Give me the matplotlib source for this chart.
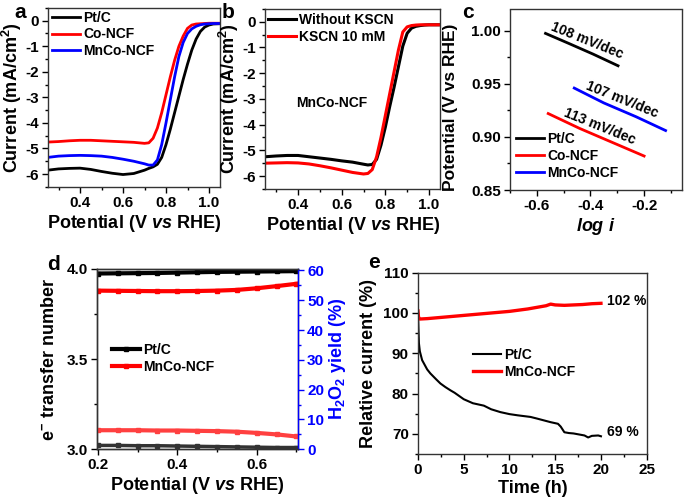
import matplotlib
matplotlib.use("Agg")
import matplotlib.pyplot as plt
from matplotlib.ticker import MultipleLocator

plt.rcParams["font.family"] = ["Liberation Sans", "DejaVu Sans"]
plt.rcParams["font.weight"] = "bold"
plt.rcParams["axes.labelweight"] = "bold"
plt.rcParams["axes.unicode_minus"] = False
plt.rcParams["mathtext.fontset"] = "custom"
plt.rcParams["mathtext.bf"] = "Liberation Sans:bold"
plt.rcParams["mathtext.rm"] = "Liberation Sans:bold"
plt.rcParams["mathtext.it"] = "Liberation Sans:bold:italic"
plt.rcParams["mathtext.default"] = "bf"

# ---- panel a: LSV curves ----
pot_a = [0.25, 0.30, 0.35, 0.40, 0.45, 0.50, 0.55, 0.60, 0.65, 0.70, 0.72, 0.74, 0.76,
         0.78, 0.80, 0.82, 0.84, 0.86, 0.88, 0.90, 0.92, 0.94, 0.96, 0.98, 1.00, 1.02, 1.05]
cur_ptc = [-5.85, -5.80, -5.78, -5.77, -5.82, -5.90, -5.97, -6.02, -5.98, -5.85, -5.78, -5.72,
           -5.62, -5.35, -4.85, -4.25, -3.60, -2.95, -2.30, -1.70, -1.15, -0.72, -0.42, -0.25,
           -0.17, -0.13, -0.12]
cur_conc = [-4.75, -4.73, -4.70, -4.68, -4.68, -4.70, -4.72, -4.74, -4.76, -4.80, -4.78, -4.60,
            -4.20, -3.60, -2.90, -2.20, -1.55, -1.00, -0.60, -0.30, -0.17, -0.13, -0.12, -0.11,
            -0.10, -0.10, -0.10]
cur_mnco = [-5.35, -5.30, -5.28, -5.27, -5.28, -5.30, -5.35, -5.42, -5.50, -5.60, -5.65, -5.65,
            -5.45, -4.85, -4.00, -3.10, -2.20, -1.40, -0.85, -0.50, -0.32, -0.22, -0.16, -0.13,
            -0.12, -0.11, -0.11]

# ---- panel b: KSCN poisoning ----
cur_no_kscn = [-5.25, -5.22, -5.20, -5.20, -5.25, -5.30, -5.35, -5.41, -5.46, -5.54, -5.57, -5.55,
               -5.35, -4.80, -4.10, -3.30, -2.55, -1.75, -0.95, -0.45, -0.25, -0.18, -0.15, -0.13,
               -0.12, -0.12, -0.12]
cur_kscn = [-5.50, -5.49, -5.48, -5.49, -5.53, -5.60, -5.68, -5.77, -5.86, -5.92, -5.90, -5.75,
            -5.25, -4.50, -3.65, -2.80, -1.95, -1.10, -0.40, -0.20, -0.15, -0.13, -0.12, -0.12,
            -0.12, -0.12, -0.12]

# ---- panel c: Tafel ----
logi_ptc = [-0.567, -0.48, -0.39, -0.297]
tafel_ptc = [0.9975, 0.988, 0.978, 0.967]
logi_conc = [-0.557, -0.44, -0.32, -0.20]
tafel_conc = [0.922, 0.908, 0.895, 0.882]
logi_mnco = [-0.46, -0.35, -0.23, -0.12]
tafel_mnco = [0.946, 0.932, 0.919, 0.906]
tafel_labels = ["108 mV/dec", "113 mV/dec", "107 mV/dec"]

# ---- panel d: RRDE ----
pot_d = [0.20, 0.25, 0.30, 0.35, 0.40, 0.45, 0.50, 0.55, 0.60, 0.65, 0.70]
n_ptc = [3.975, 3.976, 3.977, 3.978, 3.980, 3.982, 3.984, 3.985, 3.986, 3.987, 3.988]
n_mnco = [3.880, 3.879, 3.878, 3.877, 3.877, 3.878, 3.880, 3.884, 3.893, 3.905, 3.918]
h2o2_ptc = [1.3, 1.3, 1.2, 1.2, 1.1, 1.0, 0.9, 0.8, 0.7, 0.6, 0.6]
h2o2_mnco = [6.4, 6.4, 6.4, 6.3, 6.3, 6.2, 6.1, 5.9, 5.5, 5.0, 4.3]

# ---- panel e: chronoamperometry ----
t_ptc = [0, 0.05, 0.1, 0.2, 0.45, 1.0, 1.35, 2.0, 2.45, 3.0, 3.55, 4.0, 5.0, 6.0, 7.2, 8.0,
         9.0, 10.0, 10.9, 12.3, 13.0, 14.5, 15.3, 15.6, 16.0, 16.5, 17.0, 18.2, 18.6, 19.0,
         19.7, 20.0]
rel_ptc = [100, 96, 92.5, 90.5, 88.3, 86, 85, 83.5, 82.5, 81.6, 80.8, 80.2, 78.6, 77.6, 77.0,
           76.1, 75.4, 74.9, 74.6, 74.2, 73.8, 72.9, 72.5, 71.8, 70.4, 70.2, 70.1, 69.6, 69.1,
           69.5, 69.6, 69.4]
t_mnco = [0, 0.05, 0.2, 1, 2, 3, 4, 5, 6, 7, 8, 9, 10, 11, 12, 13, 14, 14.5, 15, 16, 17, 18,
          19, 20]
rel_mnco = [100.5, 99.0, 98.5, 98.6, 98.8, 99.0, 99.2, 99.4, 99.6, 99.8, 100.0, 100.2, 100.4,
            100.7, 101.0, 101.4, 101.8, 102.2, 102.0, 101.9, 102.0, 102.1, 102.3, 102.4]

W, H = 685, 498
fig = plt.figure(figsize=(W / 100, H / 100), dpi=100)


def box(l, t, r, b):
    return [l / W, 1 - b / H, (r - l) / W, (b - t) / H]


def style(ax):
    ax.tick_params(which="both", direction="out", top=False, right=False, labelsize=11, width=1,
                   pad=2.5)
    ax.tick_params(which="major", length=4)
    ax.tick_params(which="minor", length=2.5)
    for s in ax.spines.values():
        s.set_linewidth(1.0)
        s.set_color("#333333")


pot_label = r"Potential (V $\mathit{vs}$ RHE)"
cur_label = r"Current (mA/cm$^\mathbf{2}$)"
leg_kw = dict(frameon=False, fontsize=10, handlelength=2.0, handletextpad=0.25,
              labelspacing=0.2, borderpad=0, borderaxespad=0, loc="upper left")

# a
ax = fig.add_axes(box(47.75, 7.9, 219.75, 186.8))
ax.plot(pot_a, cur_ptc, color="black", lw=2, label="Pt/C")
ax.plot(pot_a, cur_conc, color="#ff0000", lw=2, label="Co-NCF")
ax.plot(pot_a, cur_mnco, color="#0000ff", lw=2, label="MnCo-NCF")
ax.set_xlim(0.25, 1.05)
ax.set_ylim(-6.5, 0.5)
ax.xaxis.set_major_locator(MultipleLocator(0.2))
ax.xaxis.set_minor_locator(MultipleLocator(0.1))
ax.yaxis.set_major_locator(MultipleLocator(1))
ax.yaxis.set_minor_locator(MultipleLocator(0.5))
ax.set_xlabel(pot_label, fontsize=13, labelpad=2)
ax.set_ylabel(cur_label, fontsize=13, labelpad=1)
style(ax)
ax.legend(bbox_to_anchor=(0.025, 0.985), **leg_kw)

# b
ax = fig.add_axes(box(265.3, 8.85, 439.9, 188.9))
ax.plot(pot_a, cur_no_kscn, color="black", lw=2.2, label="Without KSCN")
ax.plot(pot_a, cur_kscn, color="#ff0000", lw=2.2, label="KSCN 10 mM")
ax.set_xlim(0.25, 1.05)
ax.set_ylim(-6.5, 0.5)
ax.xaxis.set_major_locator(MultipleLocator(0.2))
ax.xaxis.set_minor_locator(MultipleLocator(0.1))
ax.yaxis.set_major_locator(MultipleLocator(1))
ax.yaxis.set_minor_locator(MultipleLocator(0.5))
ax.set_xlabel(pot_label, fontsize=13, labelpad=2)
ax.set_ylabel(cur_label, fontsize=13, labelpad=1)
ax.text(0.554, -3.17, "MnCo-NCF", fontsize=10, ha="center", va="center")
style(ax)
ax.legend(bbox_to_anchor=(0.015, 0.975), **leg_kw)

# c
ax = fig.add_axes(box(509.8, 9.5, 681.7, 190))
ax.plot(logi_ptc, tafel_ptc, color="black", lw=2, label="Pt/C")
ax.plot(logi_conc, tafel_conc, color="#ff0000", lw=2, label="Co-NCF")
ax.plot(logi_mnco, tafel_mnco, color="#0000ff", lw=2, label="MnCo-NCF")
for (x, y), txt in zip([(-0.414, 0.991), (-0.365, 0.9096), (-0.284, 0.935)], tafel_labels):
    ax.text(x, y, txt, fontsize=10, rotation=-22, ha="center", va="center",
            rotation_mode="anchor")
ax.set_xlim(-0.7, -0.06)
ax.set_ylim(0.85, 1.02)
ax.xaxis.set_major_locator(MultipleLocator(0.2))
ax.xaxis.set_minor_locator(MultipleLocator(0.1))
ax.yaxis.set_major_locator(MultipleLocator(0.05))
ax.yaxis.set_minor_locator(MultipleLocator(0.025))
ax.set_xlabel(r"$\mathit{log\ i}$", fontsize=13, labelpad=2)
ax.set_ylabel("Potential (V vs RHE)", fontsize=12.5)
ax.yaxis.set_label_coords(-0.3, 0.46)
style(ax)
ax.legend(bbox_to_anchor=(0.036, 0.32), **leg_kw)

# d
ax = fig.add_axes(box(96.7, 269, 298, 449.3))
ax2 = ax.twinx()
ax.plot(pot_d, n_ptc, color="black", lw=3, marker="s", ms=3, label="Pt/C")
ax.plot(pot_d, n_mnco, color="#ff0000", lw=3, marker="s", ms=3, label="MnCo-NCF")
ax2.plot(pot_d, h2o2_ptc, color="#333333", lw=2.5, marker="s", ms=2.5)
ax2.plot(pot_d, h2o2_mnco, color="#ff4040", lw=3, marker="s", ms=3)
ax.set_xlim(0.197, 0.704)
ax.set_ylim(3.0, 4.0)
ax2.set_ylim(0, 60.5)
ax.xaxis.set_major_locator(MultipleLocator(0.2))
ax.xaxis.set_minor_locator(MultipleLocator(0.1))
ax.yaxis.set_major_locator(MultipleLocator(0.5))
ax.yaxis.set_minor_locator(MultipleLocator(0.25))
ax2.yaxis.set_major_locator(MultipleLocator(10))
ax2.yaxis.set_minor_locator(MultipleLocator(5))
ax.set_xlabel(pot_label, fontsize=13, labelpad=2)
ax.set_ylabel(r"e$^{\mathbf{-}}$ transfer number", fontsize=13, labelpad=6)
ax2.set_ylabel(r"H$_\mathbf{2}$O$_\mathbf{2}$ yield (%)", fontsize=13, color="#0000ff", labelpad=2)
style(ax)
ax2.tick_params(which="both", direction="out", labelsize=11, colors="#0000ff", width=1, pad=2.5)
ax2.tick_params(which="major", length=4)
ax2.tick_params(which="minor", length=2.5)
for s in ax2.spines.values():
    s.set_linewidth(1.0)
ax2.spines["left"].set_color("#333333")
ax2.spines["top"].set_color("#333333")
ax2.spines["bottom"].set_color("#333333")
ax2.spines["right"].set_color("#0000ff")
ax.legend(bbox_to_anchor=(0.075, 0.59), **leg_kw)

# e
ax = fig.add_axes(box(418, 272.7, 646.7, 454))
ax.plot(t_ptc, rel_ptc, color="black", lw=1.5, label="Pt/C")
ax.plot(t_mnco, rel_mnco, color="#ff0000", lw=2.4, label="MnCo-NCF")
ax.text(20.63, 103.0, "102 %", fontsize=10, ha="left", va="center")
ax.text(20.63, 70.4, "69 %", fontsize=10, ha="left", va="center")
ax.set_xlim(0, 25)
ax.set_ylim(65, 110)
ax.xaxis.set_major_locator(MultipleLocator(5))
ax.xaxis.set_minor_locator(MultipleLocator(2.5))
ax.yaxis.set_major_locator(MultipleLocator(10))
ax.yaxis.set_minor_locator(MultipleLocator(5))
ax.set_xlabel("Time (h)", fontsize=13, labelpad=2)
ax.set_ylabel("Relative current (%)", fontsize=13, labelpad=5)
style(ax)
ax.legend(bbox_to_anchor=(0.242, 0.585), **leg_kw)

for x, y, s in [(20, 18, "a"), (228, 18, "b"), (468, 18, "c"), (53, 270, "d"), (374, 268, "e")]:
    fig.text(x / W, 1 - y / H, s, fontsize=15, ha="center", va="baseline")

fig.savefig("out.png", dpi=100)
